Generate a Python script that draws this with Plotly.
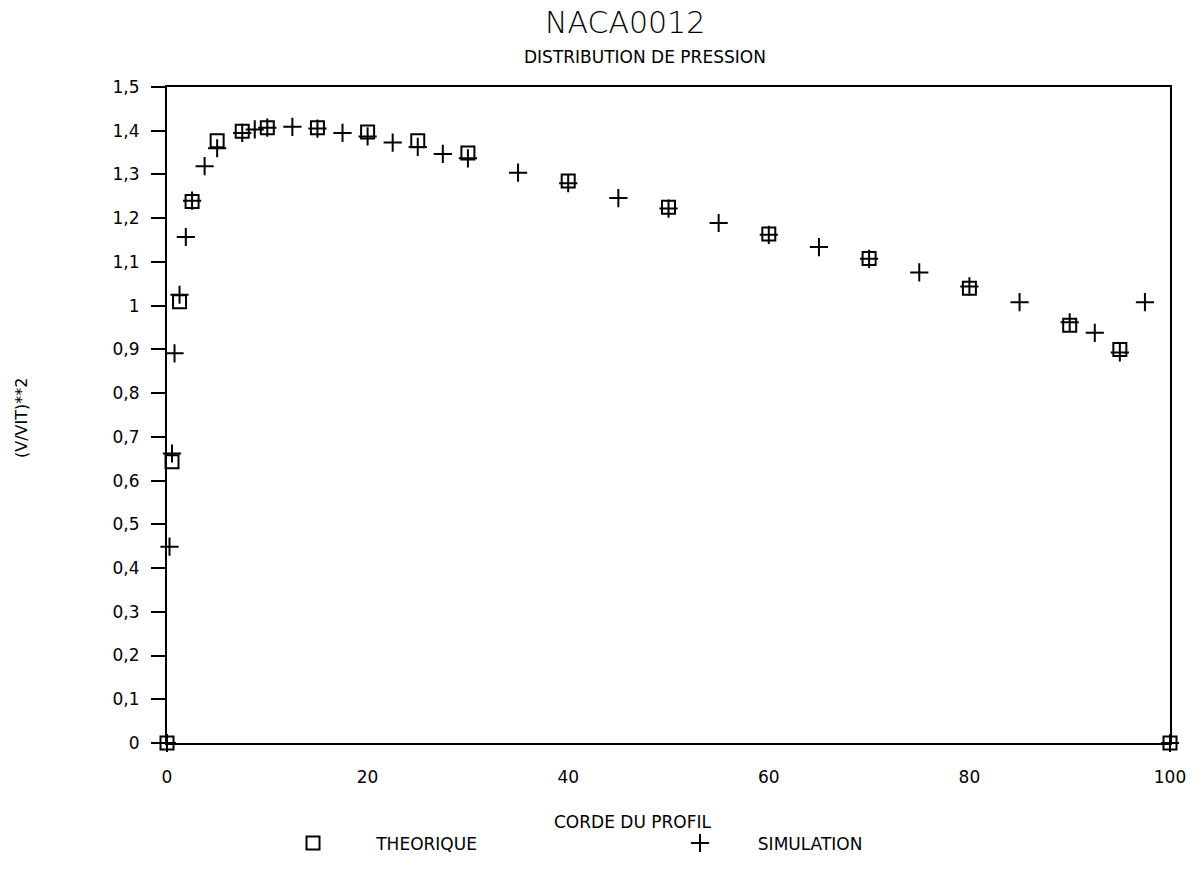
import plotly.graph_objects as go

# Theoretical values (squares)
theo_x = [0, 0.5, 1.25, 2.5, 5, 7.5, 10, 15, 20, 25, 30, 40, 50, 60, 70, 80, 90, 95, 100]
theo_y = [0, 0.643, 1.009, 1.238, 1.377, 1.399, 1.407, 1.407, 1.397, 1.377, 1.349,
          1.285, 1.225, 1.164, 1.108, 1.040, 0.955, 0.900, 0]

# Simulation values (crosses)
sim_x = [0, 0.25, 0.5, 0.75, 1.25, 1.875, 2.5, 3.75, 5, 7.5, 8.75, 10, 12.5, 15, 17.5,
         20, 22.5, 25, 27.5, 30, 35, 40, 45, 50, 55, 60, 65, 70, 75, 80, 85, 90, 92.5,
         95, 97.5, 100]
sim_y = [0, 0.449, 0.662, 0.891, 1.025, 1.157, 1.240, 1.319, 1.360, 1.395, 1.403, 1.407,
         1.409, 1.405, 1.395, 1.387, 1.373, 1.363, 1.347, 1.337, 1.304, 1.280, 1.246,
         1.222, 1.189, 1.162, 1.134, 1.107, 1.076, 1.044, 1.008, 0.962, 0.938, 0.893,
         1.008, 0]

y_tickvals = [0, 0.1, 0.2, 0.3, 0.4, 0.5, 0.6, 0.7, 0.8, 0.9, 1.0, 1.1, 1.2, 1.3, 1.4, 1.5]
y_ticktext = ["0", "0,1", "0,2", "0,3", "0,4", "0,5", "0,6", "0,7", "0,8", "0,9",
              "1", "1,1", "1,2", "1,3", "1,4", "1,5"]
x_tickvals = [0, 20, 40, 60, 80, 100]
x_ticktext = ["0", "20", "40", "60", "80", "100"]

FONT = "DejaVu Sans"
NB = "\u00a0"

fig = go.Figure()
fig.add_trace(go.Scatter(
    x=theo_x, y=theo_y, mode="markers", name=NB * 8 + "THEORIQUE",
    marker=dict(symbol="square-open", size=13, color="black", line=dict(width=2, color="black")),
    cliponaxis=False,
))
fig.add_trace(go.Scatter(
    x=sim_x, y=sim_y, mode="markers", name=NB * 7 + "SIMULATION",
    marker=dict(symbol="cross-thin-open", size=13, color="black", line=dict(width=2, color="black")),
    cliponaxis=False,
))

fig.update_layout(
    width=1202, height=873,
    margin=dict(l=167, r=32, t=87, b=120),
    paper_bgcolor="white", plot_bgcolor="white",
    font=dict(family=FONT, color="black", size=16),
    showlegend=True,
    legend=dict(
        orientation="h", x=(293 - 167) / 1003, xanchor="left",
        y=(753 - 855) / 666, yanchor="middle",
        font=dict(family=FONT, size=17, color="black"),
        entrywidthmode="pixels", entrywidth=342,
        bgcolor="rgba(0,0,0,0)",
    ),
    xaxis=dict(
        range=[0, 100], showgrid=False, zeroline=False,
        showline=True, linecolor="black", linewidth=2, mirror=True,
        ticks="", tickvals=x_tickvals, ticktext=x_ticktext,
        tickfont=dict(family=FONT, size=17, color="black"),
        ticklabelstandoff=18,
    ),
    yaxis=dict(
        range=[0, 1.5], showgrid=False, zeroline=False,
        showline=True, linecolor="black", linewidth=2, mirror=True,
        ticks="outside", ticklen=14, tickwidth=2, tickcolor="black",
        tickvals=y_tickvals, ticktext=y_ticktext,
        tickfont=dict(family=FONT, size=17, color="black"),
        ticklabelstandoff=8,
    ),
    annotations=[
        dict(text="NACA0012", xref="paper", yref="paper",
             x=(625 - 167) / 1003, y=(753 - 22) / 666, xanchor="center", yanchor="middle",
             showarrow=False, font=dict(family=FONT, size=30, color="black", weight=300)),
        dict(text="DISTRIBUTION DE PRESSION", xref="paper", yref="paper",
             x=(645 - 167) / 1003, y=(753 - 57) / 666, xanchor="center", yanchor="middle",
             showarrow=False, font=dict(family=FONT, size=17, color="black")),
        dict(text="CORDE DU PROFIL", xref="paper", yref="paper",
             x=(632 - 167) / 1003, y=(753 - 833) / 666, xanchor="center", yanchor="middle",
             showarrow=False, font=dict(family=FONT, size=17, color="black")),
        dict(text="(V/VIT)**2", xref="paper", yref="paper", textangle=-90,
             x=(22 - 167) / 1003, y=(753 - 423) / 666, xanchor="center", yanchor="middle",
             showarrow=False, font=dict(family=FONT, size=16, color="black")),
    ],
)

fig.write_html("out.html")
